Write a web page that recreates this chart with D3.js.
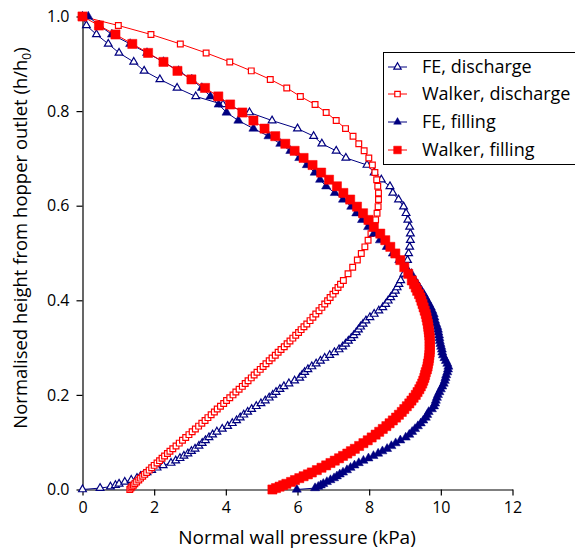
<!DOCTYPE html>
<html>
<head>
<meta charset="utf-8">
<script src="https://cdn.jsdelivr.net/npm/d3@7"></script>
<style>
  body { margin: 0; background: #fff; }
  text { font-family: "Open Sans", sans-serif; }
</style>
</head>
<body>
<script>
// normalised heights shared by all four series (bottom to top)
var heights = [0.000, 0.003, 0.006, 0.009, 0.012, 0.016, 0.020, 0.024, 0.028, 0.032,
  0.036, 0.041, 0.046, 0.051, 0.056, 0.061, 0.066, 0.071, 0.076, 0.081,
  0.086, 0.092, 0.098, 0.104, 0.110, 0.116, 0.122, 0.128, 0.134, 0.140,
  0.146, 0.152, 0.158, 0.164, 0.170, 0.176, 0.182, 0.188, 0.194, 0.200,
  0.206, 0.212, 0.218, 0.224, 0.230, 0.236, 0.242, 0.248, 0.254, 0.260,
  0.266, 0.272, 0.278, 0.284, 0.290, 0.296, 0.302, 0.308, 0.314, 0.320,
  0.326, 0.332, 0.338, 0.344, 0.350, 0.357, 0.364, 0.371, 0.378, 0.385,
  0.392, 0.399, 0.406, 0.413, 0.420, 0.427, 0.434,
  0.442, 0.456, 0.470, 0.485, 0.499, 0.513, 0.527, 0.541, 0.555, 0.570,
  0.584, 0.598, 0.613, 0.627, 0.641, 0.655, 0.670, 0.686, 0.701, 0.716,
  0.731, 0.747, 0.763, 0.780, 0.797, 0.814, 0.831, 0.849, 0.867, 0.885,
  0.904, 0.923, 0.942, 0.962, 0.981, 1.000];

// normal wall pressure (kPa) at each height
var feDischarge = [0.00, 0.49, 0.78, 0.92, 1.02, 1.18, 1.36, 1.52, 1.62, 1.71,
  1.80, 1.93, 2.08, 2.25, 2.47, 2.60, 2.72, 2.83, 2.94, 3.04,
  3.14, 3.25, 3.34, 3.43, 3.53, 3.63, 3.75, 3.90, 4.05, 4.18,
  4.30, 4.40, 4.50, 4.61, 4.72, 4.85, 4.98, 5.10, 5.21, 5.31,
  5.40, 5.51, 5.62, 5.76, 5.92, 6.06, 6.13, 6.20, 6.29, 6.40,
  6.52, 6.64, 6.76, 6.90, 7.03, 7.16, 7.26, 7.34, 7.42, 7.50,
  7.57, 7.64, 7.70, 7.76, 7.83, 7.91, 8.02, 8.14, 8.27, 8.38,
  8.46, 8.53, 8.60, 8.67, 8.73, 8.78, 8.83,
  8.88, 8.97, 9.02, 9.07, 9.10, 9.13, 9.15, 9.15, 9.13, 9.08,
  9.03, 8.96, 8.82, 8.66, 8.58, 8.34, 8.14, 7.94, 7.35, 7.08,
  6.68, 6.45, 6.00, 5.29, 4.66, 3.92, 3.16, 2.64, 2.16, 1.72,
  1.43, 1.02, 0.72, 0.39, 0.11, 0.00];

var walkerDischarge = [1.32, 1.35, 1.38, 1.42, 1.46, 1.51, 1.57, 1.62, 1.68, 1.73,
  1.79, 1.86, 1.93, 2.00, 2.08, 2.15, 2.22, 2.29, 2.37, 2.44,
  2.52, 2.61, 2.70, 2.79, 2.88, 2.97, 3.06, 3.15, 3.24, 3.33,
  3.42, 3.50, 3.59, 3.68, 3.76, 3.85, 3.94, 4.02, 4.11, 4.20,
  4.28, 4.37, 4.46, 4.54, 4.62, 4.71, 4.79, 4.87, 4.96, 5.04,
  5.12, 5.21, 5.29, 5.38, 5.46, 5.54, 5.63, 5.71, 5.79, 5.87,
  5.95, 6.03, 6.10, 6.18, 6.26, 6.35, 6.43, 6.51, 6.60, 6.68,
  6.76, 6.84, 6.91, 6.99, 7.06, 7.13, 7.20,
  7.28, 7.41, 7.54, 7.67, 7.78, 7.88, 7.97, 8.05, 8.12, 8.18,
  8.22, 8.25, 8.26, 8.26, 8.24, 8.21, 8.16, 8.09, 7.99, 7.86,
  7.71, 7.55, 7.34, 7.08, 6.80, 6.49, 6.08, 5.70, 5.24, 4.71,
  4.11, 3.45, 2.73, 1.91, 1.00, 0.00];

var feFilling = [5.98, 6.49, 6.58, 6.65, 6.72, 6.82, 6.92, 7.02, 7.10, 7.18,
  7.27, 7.38, 7.48, 7.59, 7.71, 7.84, 7.98, 8.12, 8.25, 8.37,
  8.50, 8.62, 8.74, 8.87, 9.02, 9.12, 9.20, 9.28, 9.36, 9.44,
  9.51, 9.58, 9.62, 9.66, 9.75, 9.81, 9.84, 9.86, 9.89, 9.92,
  9.96, 10.00, 10.04, 10.08, 10.11, 10.13, 10.15, 10.18, 10.20, 10.21,
  10.18, 10.14, 10.10, 10.06, 10.04, 10.03, 10.01, 9.99, 9.97, 9.96,
  9.95, 9.93, 9.92, 9.90, 9.87, 9.84, 9.82, 9.80, 9.76, 9.72,
  9.67, 9.62, 9.57, 9.52, 9.46, 9.40, 9.34,
  9.28, 9.18, 9.02, 8.84, 8.66, 8.49, 8.30, 8.13, 7.97, 7.80,
  7.64, 7.50, 7.27, 7.04, 6.80, 6.63, 6.48, 6.26, 6.05, 5.80,
  5.52, 5.19, 4.77, 4.35, 4.02, 3.80, 3.57, 3.33, 3.05, 2.68,
  2.26, 1.80, 1.33, 0.82, 0.47, 0.16];

var walkerFilling = [5.30, 5.40, 5.50, 5.60, 5.69, 5.82, 5.93, 6.05, 6.17, 6.29,
  6.40, 6.54, 6.67, 6.80, 6.92, 7.04, 7.16, 7.27, 7.39, 7.49,
  7.60, 7.72, 7.84, 7.96, 8.07, 8.18, 8.28, 8.38, 8.48, 8.57,
  8.66, 8.75, 8.83, 8.91, 8.98, 9.05, 9.12, 9.18, 9.24, 9.30,
  9.35, 9.40, 9.44, 9.48, 9.51, 9.54, 9.56, 9.58, 9.61, 9.63,
  9.64, 9.66, 9.67, 9.68, 9.69, 9.69, 9.69, 9.69, 9.69, 9.69,
  9.68, 9.67, 9.66, 9.65, 9.64, 9.62, 9.60, 9.58, 9.55, 9.52,
  9.49, 9.46, 9.43, 9.39, 9.34, 9.30, 9.25,
  9.19, 9.09, 8.98, 8.87, 8.73, 8.59, 8.45, 8.31, 8.13, 7.98,
  7.83, 7.66, 7.47, 7.28, 7.10, 6.88, 6.66, 6.42, 6.17, 5.92,
  5.66, 5.38, 5.08, 4.77, 4.46, 4.12, 3.79, 3.42, 3.04, 2.65,
  2.26, 1.83, 1.39, 0.92, 0.46, 0.00];

var seriesNames = ["FE, discharge", "Walker, discharge", "FE, filling", "Walker, filling"];
var xTicks = [0, 2, 4, 6, 8, 10, 12];
var yTicks = [0, 0.2, 0.4, 0.6, 0.8, 1.0];

var w = 575;
var h = 552;
var navy = "#000080";
var red = "#ff0000";

var series = [
  { name: seriesNames[0], values: feDischarge, color: navy, shape: d3.symbolTriangle, size: 26, filled: false },
  { name: seriesNames[1], values: walkerDischarge, color: red, shape: d3.symbolSquare, size: 33, filled: false },
  { name: seriesNames[2], values: feFilling, color: navy, shape: d3.symbolTriangle, size: 36, filled: true },
  { name: seriesNames[3], values: walkerFilling, color: red, shape: d3.symbolSquare, size: 84, filled: true }
];

var svg = d3.select("body")
  .append("svg")
  .attr("width", w)
  .attr("height", h);

var x = d3.scaleLinear().domain([0, 12]).range([82.5, 512.5]);
var y = d3.scaleLinear().domain([0, 1]).range([489.5, 16.5]);

// axes
svg.append("g")
  .attr("transform", "translate(0," + y(0) + ")")
  .call(d3.axisBottom(x).tickValues(xTicks).tickSize(6).tickSizeOuter(0).tickPadding(6).tickFormat(d3.format("d")));
svg.append("g")
  .attr("transform", "translate(" + x(0) + ",0)")
  .call(d3.axisLeft(y).tickValues(yTicks).tickSize(6).tickSizeOuter(0).tickPadding(7).tickFormat(d3.format(".1f")));

svg.selectAll(".tick text")
  .attr("font-family", "'Open Sans', sans-serif")
  .attr("font-size", "16px")
  .attr("fill", "#000");
svg.selectAll(".domain, .tick line").attr("stroke", "#000").attr("stroke-width", 1.2);

// axis titles
svg.append("text")
  .attr("x", 297)
  .attr("y", 544)
  .attr("text-anchor", "middle")
  .attr("font-size", "19px")
  .text("Normal wall pressure (kPa)");

var yt = svg.append("text")
  .attr("transform", "translate(27,238) rotate(-90)")
  .attr("text-anchor", "middle")
  .attr("font-size", "18.5px");
yt.append("tspan").text("Normalised height from hopper outlet (h/h");
yt.append("tspan").attr("font-size", "12px").attr("dy", "4").text("0");
yt.append("tspan").attr("dy", "-4").text(")");

// series
var line = d3.line()
  .x(function(d) { return x(d[0]); })
  .y(function(d) { return y(d[1]); });

series.forEach(function(s) {
  var pts = s.values.map(function(v, i) { return [v, heights[i]]; });
  var g = svg.append("g");
  g.append("path")
    .attr("d", line(pts))
    .attr("fill", "none")
    .attr("stroke", s.color)
    .attr("stroke-width", 1);
  g.selectAll("path.m")
    .data(pts)
    .enter()
    .append("path")
    .attr("class", "m")
    .attr("d", d3.symbol().type(s.shape).size(s.size))
    .attr("transform", function(d) { return "translate(" + x(d[0]) + "," + y(d[1]) + ")"; })
    .attr("fill", s.filled ? s.color : "#fff")
    .attr("stroke", s.color)
    .attr("stroke-width", s.filled ? 0.5 : 1.2);
});

// legend
var lg = svg.append("g");
lg.append("rect")
  .attr("x", 383.5)
  .attr("y", 52.5)
  .attr("width", 200)
  .attr("height", 112)
  .attr("fill", "#fff")
  .attr("stroke", "#000")
  .attr("stroke-width", 1);

var legendY = [67, 94, 122, 150];
series.forEach(function(s, i) {
  lg.append("line")
    .attr("x1", 388).attr("x2", 407)
    .attr("y1", legendY[i]).attr("y2", legendY[i])
    .attr("stroke", s.color).attr("stroke-width", 1);
  lg.append("path")
    .attr("d", d3.symbol().type(s.shape).size(s.filled ? s.size * 0.7 : s.size * 0.9))
    .attr("transform", "translate(397.5," + legendY[i] + ")")
    .attr("fill", s.filled ? s.color : "#fff")
    .attr("stroke", s.color)
    .attr("stroke-width", s.filled ? 0.5 : 1.2);
  lg.append("text")
    .attr("x", 422)
    .attr("y", legendY[i])
    .attr("dy", "0.35em")
    .attr("font-size", "18px")
    .text(s.name);
});
</script>
</body>
</html>
